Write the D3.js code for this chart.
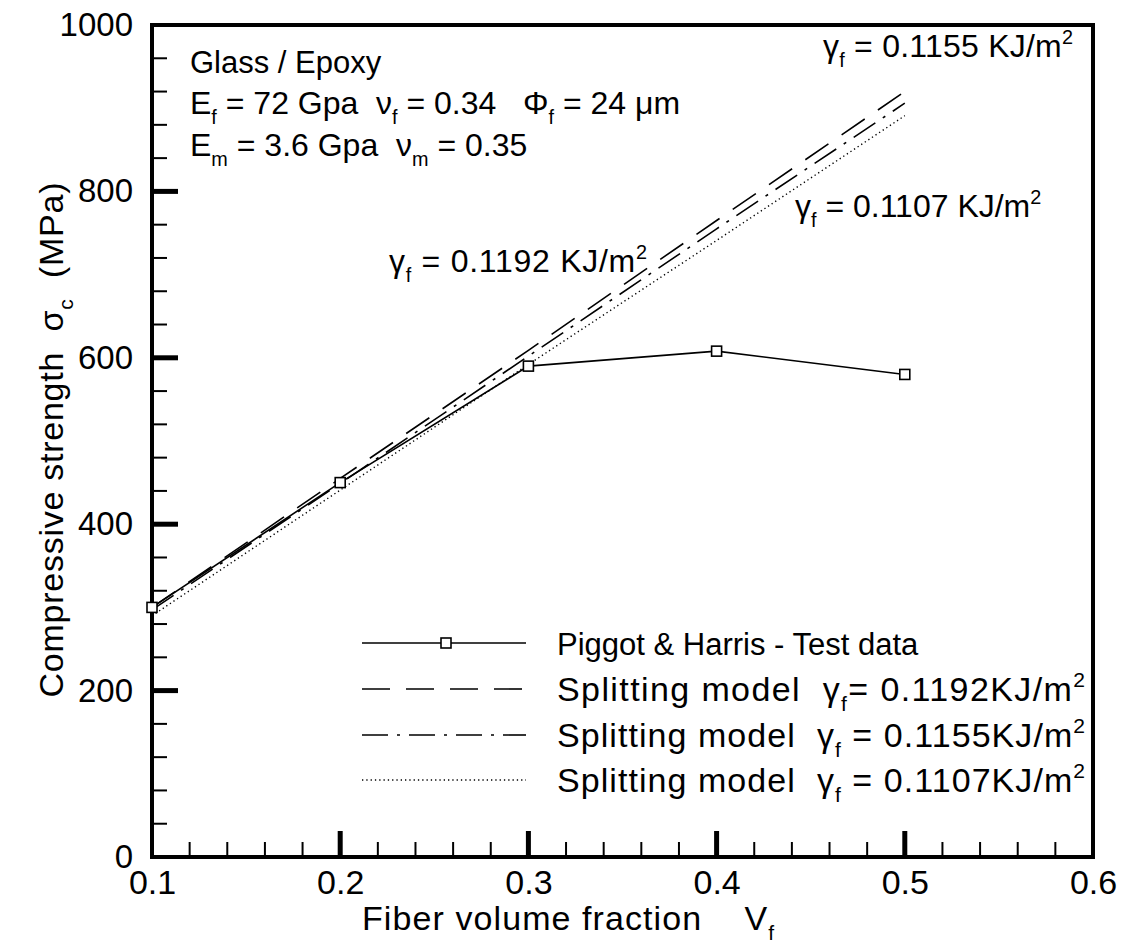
<!DOCTYPE html>
<html><head><meta charset="utf-8">
<script src="https://cdn.jsdelivr.net/npm/d3@7"></script>
<style>
body{margin:0;background:#fff;}
text{font-family:"Liberation Sans",Arial,Helvetica,sans-serif;fill:#000;white-space:pre;}
</style></head><body>
<svg id="c" width="1137" height="944"></svg>
<script>
const vf = [0.1, 0.2, 0.3, 0.4, 0.5];
const testData = [300, 450, 590, 608, 580];
const split1192 = [300, 455, 609, 765, 920];
const split1155 = [297, 449, 602, 755, 906];
const split1107 = [290, 441, 592, 741, 891];
const xTicks = [0.1, 0.2, 0.3, 0.4, 0.5, 0.6];
const yTicks = [0, 200, 400, 600, 800, 1000];

const svg = d3.select("#c");
const L = 152, R = 1093, T = 25, B = 857;
const x = d3.scaleLinear().domain([0.1, 0.6]).range([L, R]);
const y = d3.scaleLinear().domain([0, 1000]).range([B, T]);

const xMinor = d3.range(0.1, 0.6001, 0.02).filter(v => Math.abs(v*10 - Math.round(v*10)) > 1e-6);
const yMinor = d3.range(0, 1000.1, 40).filter(v => v % 200 !== 0);

const gx = svg.append("g").attr("transform", `translate(0,${B})`)
  .call(d3.axisBottom(x).tickValues(xTicks).tickSize(0).tickPadding(13).tickFormat(d3.format(".1f")));
gx.select(".domain").remove();
gx.selectAll("text").attr("font-size", 34).attr("dy", "0.72em");
const gy = svg.append("g").attr("transform", `translate(${L},0)`)
  .call(d3.axisLeft(y).tickValues(yTicks).tickSize(0).tickPadding(19).tickFormat(d3.format("d")));
gy.select(".domain").remove();
gy.selectAll("text").attr("font-size", 33);

const tk = svg.append("g").attr("stroke", "#000");
xTicks.slice(1, 5).forEach(v => tk.append("line").attr("x1", x(v)).attr("x2", x(v)).attr("y1", B).attr("y2", B - 26).attr("stroke-width", 5));
xMinor.forEach(v => tk.append("line").attr("x1", x(v)).attr("x2", x(v)).attr("y1", B).attr("y2", B - 15).attr("stroke-width", 2));
yTicks.slice(1, 5).forEach(v => tk.append("line").attr("x1", L).attr("x2", L + 26).attr("y1", y(v)).attr("y2", y(v)).attr("stroke-width", 5));
yMinor.forEach(v => tk.append("line").attr("x1", L).attr("x2", L + 15).attr("y1", y(v)).attr("y2", y(v)).attr("stroke-width", 2));

svg.append("rect").attr("x", L).attr("y", T).attr("width", R - L).attr("height", B - T)
  .attr("fill", "none").attr("stroke", "#000").attr("stroke-width", 4);

const line = d3.line().x((d, i) => x(vf[i])).y(d => y(d));
const styles = [
  {data: split1192, dash: "28,16", w: 1.6},
  {data: split1155, dash: "26,9,3,9", w: 1.6},
  {data: split1107, dash: "1.3,3", w: 1.4},
];
styles.forEach(s => svg.append("path").datum(s.data).attr("d", line)
  .attr("fill", "none").attr("stroke", "#000").attr("stroke-width", s.w).attr("stroke-dasharray", s.dash));
svg.append("path").datum(testData).attr("d", line).attr("fill", "none").attr("stroke", "#000").attr("stroke-width", 1.6);
svg.selectAll("rect.m").data(testData).enter().append("rect").attr("class", "m")
  .attr("x", (d, i) => x(vf[i]) - 5).attr("y", d => y(d) - 5).attr("width", 10).attr("height", 10)
  .attr("fill", "#fff").attr("stroke", "#000").attr("stroke-width", 1.6);

function rich(g, xx, yy, parts, size, len) {
  const t = g.append("text").attr("x", xx).attr("y", yy).attr("font-size", size);
  if (len) t.attr("textLength", len).attr("lengthAdjust", "spacing");
  let shift = 0;
  parts.forEach(p => {
    let s, dy = 0, fs = size;
    if (typeof p === "string") { s = p; dy = -shift; shift = 0; }
    else if (p.sub) { s = p.sub; fs = size * 0.62; dy = size * 0.3 - shift; shift = size * 0.3; }
    else if (p.sup) { s = p.sup; fs = size * 0.62; dy = -size * 0.4 - shift; shift = -size * 0.4; }
    t.append("tspan").attr("dy", dy).attr("font-size", fs).text(s);
  });
  return t;
}

rich(svg, 190, 73, ["Glass / Epoxy"], 31);
rich(svg, 190, 114, ["E", {sub: "f"}, " = 72 Gpa  ν", {sub: "f"}, " = 0.34   Φ", {sub: "f"}, " = 24 μm"], 32);
rich(svg, 190, 156, ["E", {sub: "m"}, " = 3.6 Gpa  ν", {sub: "m"}, " = 0.35"], 32);

rich(svg, 823, 57, ["γ", {sub: "f"}, " = 0.1155 KJ/m", {sup: "2"}], 32, 250);
rich(svg, 795, 217, ["γ", {sub: "f"}, " = 0.1107 KJ/m", {sup: "2"}], 32);
rich(svg, 389, 272, ["γ", {sub: "f"}, " = 0.1192 KJ/m", {sup: "2"}], 32, 258);

const legNames = [
  ["Piggot & Harris - Test data"],
  ["Splitting model  γ", {sub: "f"}, "= 0.1192KJ/m", {sup: "2"}],
  ["Splitting model  γ", {sub: "f"}, " = 0.1155KJ/m", {sup: "2"}],
  ["Splitting model  γ", {sub: "f"}, " = 0.1107KJ/m", {sup: "2"}],
];
const legDash = [null, "28,16", "26,9,3,9", "1.3,3"];
const legY = [643, 689, 735, 780];
legNames.forEach((n, i) => {
  const ly = legY[i];
  const l = svg.append("line").attr("x1", 362).attr("x2", 526).attr("y1", ly).attr("y2", ly)
    .attr("stroke", "#000").attr("stroke-width", 1.6);
  if (legDash[i]) l.attr("stroke-dasharray", legDash[i]);
  if (i === 0) svg.append("rect").attr("x", 441).attr("y", ly - 5).attr("width", 10).attr("height", 10)
    .attr("fill", "#fff").attr("stroke", "#000").attr("stroke-width", 1.6);
  if (i === 0) rich(svg, 557, ly + 12, n, 31);
  else rich(svg, 557, ly + 12, n, 34, 528);
});

rich(svg, 362, 930, ["Fiber volume fraction    V", {sub: "f"}], 34, 412);
const yt = rich(svg.append("g").attr("transform", "translate(63,440) rotate(-90)"), 0, 0,
  ["Compressive strength  σ", {sub: "c"}, "  (MPa)"], 34, 515);
yt.attr("text-anchor", "middle");
</script></body></html>
